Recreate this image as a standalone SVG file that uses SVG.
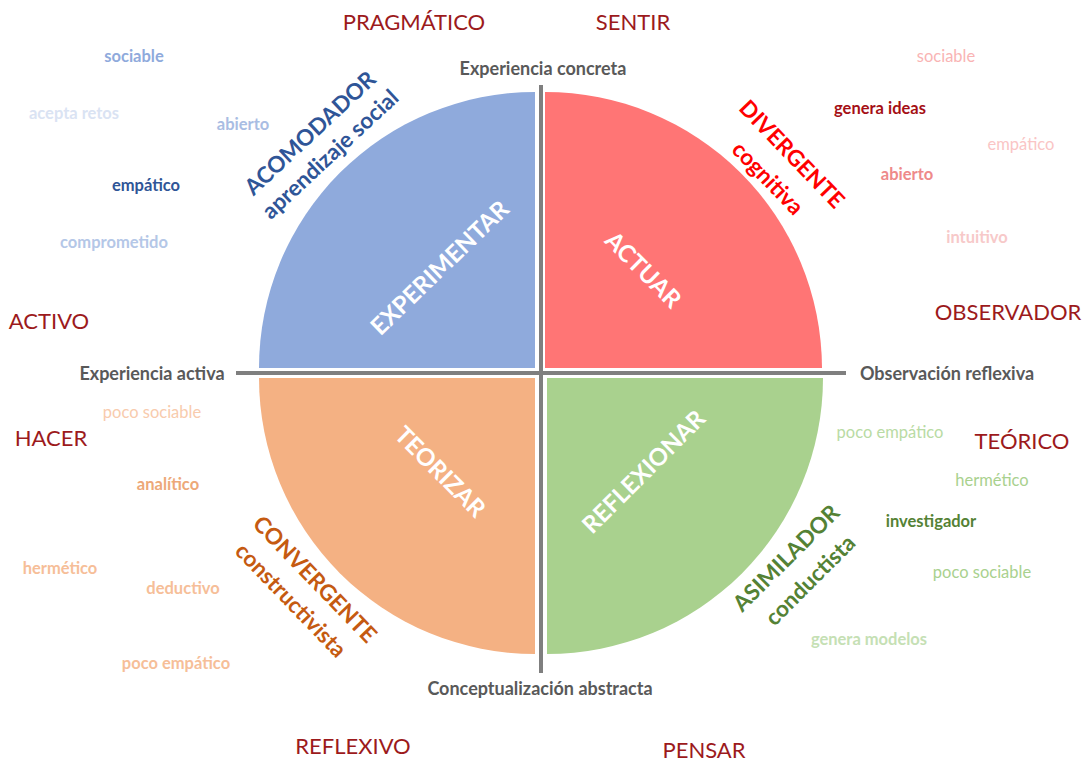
<svg xmlns="http://www.w3.org/2000/svg" width="1088" height="765" viewBox="0 0 1088 765">
<style>
text{font-family:Lato,"Liberation Sans",sans-serif;text-anchor:middle}
.big{font-size:22px;fill:#9C1A1C}
.axis{font-size:18px;font-weight:bold;fill:#595959}
.w{font-size:16.5px}
.b{font-weight:bold}
.q{font-size:24px;font-weight:bold;fill:#fff}
.r{font-size:22.5px;font-weight:bold}
.r2{font-size:22.5px;font-weight:bold}
.ln{stroke:#7F7F7F;stroke-width:4;fill:none}
</style>
<rect width="1088" height="765" fill="#fff"/>
<g id="q-experimentar"><path d="M535,368 L259,368 A276,276 0 0 1 535,92 Z" fill="#8FAADC"/>
<text class="q" transform="translate(440,268) rotate(-44)" y="8">EXPERIMENTAR</text></g>
<g id="q-actuar"><path d="M545,368 L545,92 A277,277 0 0 1 822,368 Z" fill="#FF7575"/>
<text class="q" transform="translate(643,270) rotate(45)" y="8">ACTUAR</text></g>
<g id="q-teorizar"><path d="M535,378 L535,654 A276,276 0 0 1 259,378 Z" fill="#F4B183"/>
<text class="q" transform="translate(440,472) rotate(45)" y="8">TEORIZAR</text></g>
<g id="q-reflexionar"><path d="M547,378 L823,378 A276,276 0 0 1 547,654 Z" fill="#A9D18E"/>
<text class="q" transform="translate(644,472) rotate(-45)" y="8">REFLEXIONAR</text></g>
<g id="connectors">
<line class="ln" x1="541" y1="85" x2="541" y2="673"/>
<line class="ln" x1="236" y1="373" x2="846" y2="373"/>
</g>
<g id="axis-labels">
<text class="axis" x="543" y="75">Experiencia concreta</text>
<text class="axis" x="152" y="380">Experiencia activa</text>
<text class="axis" x="947" y="380">Observación reflexiva</text>
<text class="axis" x="540" y="695">Conceptualización abstracta</text>
</g>
<g id="big-labels">
<text class="big" x="414" y="30">PRAGMÁTICO</text>
<text class="big" x="633" y="30">SENTIR</text>
<text class="big" x="49" y="329">ACTIVO</text>
<text class="big" x="1008" y="320">OBSERVADOR</text>
<text class="big" x="51" y="446">HACER</text>
<text class="big" x="1022" y="449">TEÓRICO</text>
<text class="big" x="353" y="754">REFLEXIVO</text>
<text class="big" x="704" y="758">PENSAR</text>
</g>
<g id="acomodador">
<text class="r" fill="#2F5597" transform="translate(310,133) rotate(-43)" y="8">ACOMODADOR</text>
<text class="r2" fill="#2F5597" transform="translate(330,154) rotate(-43)" y="8">aprendizaje social</text>
</g>
<g id="divergente">
<text class="r" fill="#FF0000" transform="translate(792,154) rotate(46)" y="8">DIVERGENTE</text>
<text class="r2" fill="#FF0000" transform="translate(768,178) rotate(46)" y="8">cognitiva</text>
</g>
<g id="convergente">
<text class="r" fill="#C55A11" transform="translate(315,579) rotate(46)" y="8">CONVERGENTE</text>
<text class="r2" fill="#C55A11" transform="translate(291,600) rotate(46)" y="8">constructivista</text>
</g>
<g id="asimilador">
<text class="r" fill="#548235" transform="translate(786,558) rotate(-45)" y="8">ASIMILADOR</text>
<text class="r2" fill="#548235" transform="translate(810,580) rotate(-45)" y="8">conductista</text>
</g>
<g id="words-blue">
<text class="w b" x="134" y="62" fill="#8FAADC">sociable</text>
<text class="w b" x="74" y="119" fill="#DAE3F3">acepta retos</text>
<text class="w b" x="243" y="130" fill="#A9BDE3">abierto</text>
<text class="w b" x="146" y="191" fill="#2F5597">empático</text>
<text class="w b" x="114" y="248" fill="#B4C7E7">comprometido</text>
</g>
<g id="words-red">
<text class="w" x="946" y="62" fill="#F9B4B4">sociable</text>
<text class="w b" x="880" y="114" fill="#A50F15">genera ideas</text>
<text class="w" x="1021" y="150" fill="#FAC5C5">empático</text>
<text class="w b" x="907" y="180" fill="#EE8A8A">abierto</text>
<text class="w b" x="977" y="243" fill="#F7C9C9">intuitivo</text>
</g>
<g id="words-orange">
<text class="w" x="152" y="418" fill="#F8CBAD">poco sociable</text>
<text class="w b" x="168" y="490" fill="#EDA878">analítico</text>
<text class="w b" x="60" y="574" fill="#F6BE98">hermético</text>
<text class="w b" x="183" y="594" fill="#F6BE98">deductivo</text>
<text class="w b" x="176" y="669" fill="#F6BE98">poco empático</text>
</g>
<g id="words-green">
<text class="w" x="890" y="438" fill="#B9DBA4">poco empático</text>
<text class="w" x="992" y="486" fill="#A9D18E">hermético</text>
<text class="w b" x="931" y="527" fill="#548235">investigador</text>
<text class="w" x="982" y="578" fill="#A9D18E">poco sociable</text>
<text class="w b" x="869" y="645" fill="#C5E0B4">genera modelos</text>
</g>
</svg>
